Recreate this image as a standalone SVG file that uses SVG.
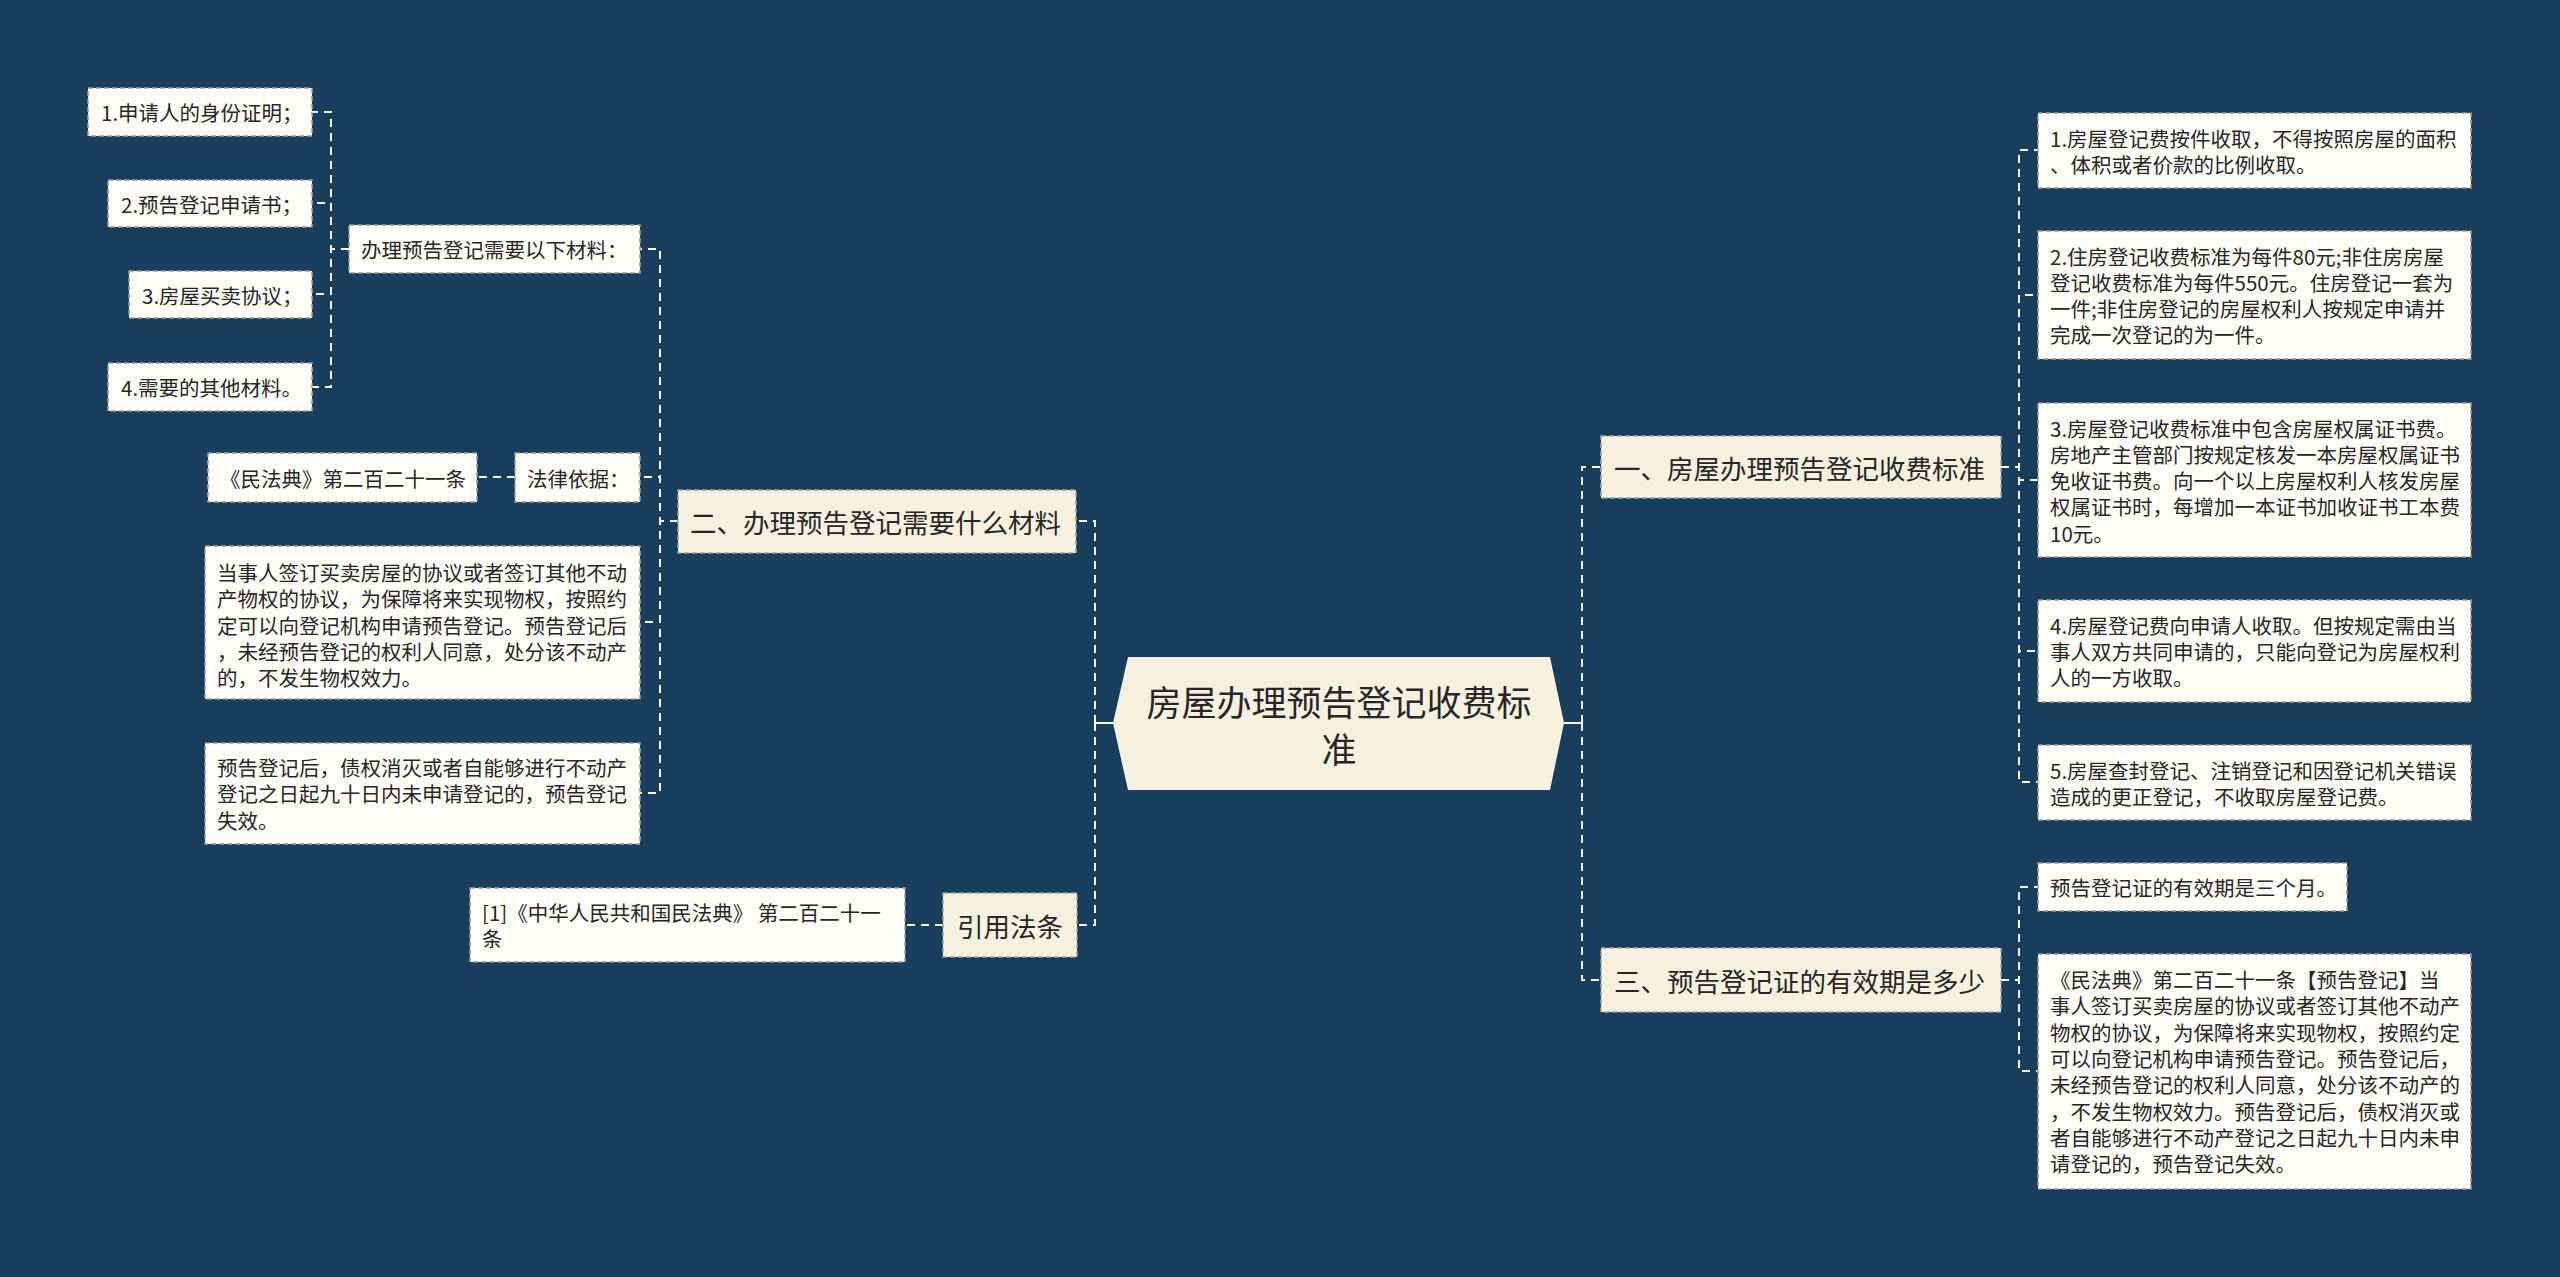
<svg xmlns="http://www.w3.org/2000/svg" width="2560" height="1277" viewBox="0 0 2560 1277">
<style>
text{font-family:"Noto Sans CJK SC","Noto Sans",sans-serif;fill:#262626;dominant-baseline:central}
.leaf rect{fill:#fffdf5;stroke:#9c9a92;stroke-width:1.5;stroke-dasharray:5 3}
.branch rect{fill:#f6f1df;stroke:#a8a390;stroke-width:1.5;stroke-dasharray:5 3}
.leaf text{font-size:20.5px}
.branch text{font-size:26.5px}
.conn path{fill:none;stroke:#ffffff;stroke-width:2;stroke-dasharray:8 6}
.conn path.solid{stroke-dasharray:none}
</style>
<rect width="2560" height="1277" fill="#183d5d"/>
<g class="conn" id="connectors">
<path class="solid" d="M1113,723H1095"/>
<path d="M1095,723V521H1076"/>
<path d="M1095,723V925H1077"/>
<path class="solid" d="M1564,723H1582"/>
<path d="M1582,723V467H1601"/>
<path d="M1582,723V980H1601"/>
<path d="M2001,467H2019V150H2038"/>
<path d="M2001,467H2019V295H2038"/>
<path d="M2001,467H2019V480H2038"/>
<path d="M2001,467H2019V651H2038"/>
<path d="M2001,467H2019V782H2038"/>
<path d="M2001,980H2019V887H2038"/>
<path d="M2001,980H2019V1071H2038"/>
<path d="M678,521H660V249H640"/>
<path d="M678,521H660V477H640"/>
<path d="M678,521H660V622H640"/>
<path d="M678,521H660V793H640"/>
<path d="M349,249H331V112H312"/>
<path d="M349,249H331V203H312"/>
<path d="M349,249H331V294H312"/>
<path d="M349,249H331V387H312"/>
<path d="M515,477H477"/>
<path d="M943,925H905"/>
</g>
<g id="center">
<polygon points="1113,723 1128,657 1550,657 1564,723 1550,790 1128,790" fill="#f6f1df"/>
<text x="1339" y="700" font-size="35" text-anchor="middle">房屋办理预告登记收费标</text>
<text x="1339" y="747" font-size="35" text-anchor="middle">准</text>
</g>
<g id="b2" class="branch"><rect x="678" y="490" width="398" height="63"/><text x="690" y="521">二、办理预告登记需要什么材料</text></g>
<g id="b_cite" class="branch"><rect x="943" y="893" width="134" height="64"/><text x="1010" y="925" text-anchor="middle">引用法条</text></g>
<g id="b1" class="branch"><rect x="1601" y="436" width="400" height="62"/><text x="1614" y="467">一、房屋办理预告登记收费标准</text></g>
<g id="b3" class="branch"><rect x="1601" y="948" width="400" height="64"/><text x="1614" y="980">三、预告登记证的有效期是多少</text></g>
<g id="n_mat" class="leaf"><rect x="349" y="225" width="291" height="48"/><text x="361" y="249">办理预告登记需要以下材料：</text></g>
<g id="m1" class="leaf"><rect x="88" y="88" width="224" height="48"/><text x="101" y="112">1.申请人的身份证明；</text></g>
<g id="m2" class="leaf"><rect x="108" y="180" width="204" height="47"/><text x="121" y="203.5">2.预告登记申请书；</text></g>
<g id="m3" class="leaf"><rect x="129" y="271" width="183" height="47"/><text x="142" y="294.5">3.房屋买卖协议；</text></g>
<g id="m4" class="leaf"><rect x="108" y="363" width="204" height="48"/><text x="121" y="387">4.需要的其他材料。</text></g>
<g id="n_law" class="leaf"><rect x="515" y="453" width="125" height="49"/><text x="527" y="477.5">法律依据：</text></g>
<g id="n_law1" class="leaf"><rect x="208" y="453" width="269" height="49"/><text x="220" y="477.5">《民法典》第二百二十一条</text></g>
<g id="n_l2" class="leaf"><rect x="205" y="546" width="435" height="153"/><text x="217" y="572">当事人签订买卖房屋的协议或者签订其他不动</text><text x="217" y="598.3">产物权的协议，为保障将来实现物权，按照约</text><text x="217" y="624.6">定可以向登记机构申请预告登记。预告登记后</text><text x="217" y="650.9">，未经预告登记的权利人同意，处分该不动产</text><text x="217" y="677.2">的，不发生物权效力。</text></g>
<g id="n_l3" class="leaf"><rect x="205" y="743" width="435" height="101"/><text x="217" y="767">预告登记后，债权消灭或者自能够进行不动产</text><text x="217" y="793.3">登记之日起九十日内未申请登记的，预告登记</text><text x="217" y="819.6">失效。</text></g>
<g id="n_cite1" class="leaf"><rect x="470" y="888" width="435" height="74"/><text x="482" y="912">[1]《中华人民共和国民法典》 第二百二十一</text><text x="482" y="938.3">条</text></g>
<g id="r1" class="leaf"><rect x="2038" y="113" width="433" height="75"/><text x="2050" y="137.5">1.房屋登记费按件收取，不得按照房屋的面积</text><text x="2050" y="163.8">、体积或者价款的比例收取。</text></g>
<g id="r2" class="leaf"><rect x="2038" y="231" width="433" height="128"/><text x="2050" y="255.5">2.住房登记收费标准为每件80元;非住房房屋</text><text x="2050" y="281.8">登记收费标准为每件550元。住房登记一套为</text><text x="2050" y="308.1">一件;非住房登记的房屋权利人按规定申请并</text><text x="2050" y="334.4">完成一次登记的为一件。</text></g>
<g id="r3" class="leaf"><rect x="2038" y="403" width="433" height="154"/><text x="2050" y="427.5">3.房屋登记收费标准中包含房屋权属证书费。</text><text x="2050" y="453.8">房地产主管部门按规定核发一本房屋权属证书</text><text x="2050" y="480.1">免收证书费。向一个以上房屋权利人核发房屋</text><text x="2050" y="506.4">权属证书时，每增加一本证书加收证书工本费</text><text x="2050" y="532.7">10元。</text></g>
<g id="r4" class="leaf"><rect x="2038" y="600" width="433" height="102"/><text x="2050" y="624.5">4.房屋登记费向申请人收取。但按规定需由当</text><text x="2050" y="650.8">事人双方共同申请的，只能向登记为房屋权利</text><text x="2050" y="677.1">人的一方收取。</text></g>
<g id="r5" class="leaf"><rect x="2038" y="745" width="433" height="75"/><text x="2050" y="769.5">5.房屋查封登记、注销登记和因登记机关错误</text><text x="2050" y="795.8">造成的更正登记，不收取房屋登记费。</text></g>
<g id="r6" class="leaf"><rect x="2038" y="863" width="309" height="48"/><text x="2050" y="887">预告登记证的有效期是三个月。</text></g>
<g id="r7" class="leaf"><rect x="2038" y="954" width="433" height="235"/><text x="2050" y="979">《民法典》第二百二十一条【预告登记】当</text><text x="2050" y="1005.3">事人签订买卖房屋的协议或者签订其他不动产</text><text x="2050" y="1031.6">物权的协议，为保障将来实现物权，按照约定</text><text x="2050" y="1057.9">可以向登记机构申请预告登记。预告登记后，</text><text x="2050" y="1084.2">未经预告登记的权利人同意，处分该不动产的</text><text x="2050" y="1110.5">，不发生物权效力。预告登记后，债权消灭或</text><text x="2050" y="1136.8">者自能够进行不动产登记之日起九十日内未申</text><text x="2050" y="1163.1">请登记的，预告登记失效。</text></g>
</svg>
